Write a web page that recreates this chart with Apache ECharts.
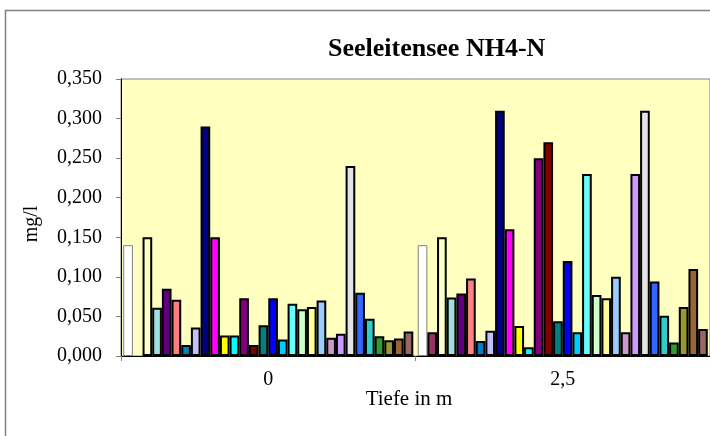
<!DOCTYPE html>
<html>
<head>
<meta charset="utf-8">
<script src="https://cdn.jsdelivr.net/npm/echarts@6/dist/echarts.min.js"></script>
<style>
html,body{margin:0;padding:0;background:#fff;}
#chart{width:710px;height:436px;}
</style>
</head>
<body>
<div id="chart"></div>
<script>
var categories = ['0', '2,5'];
var yTicks = [0, 0.05, 0.1, 0.15, 0.2, 0.25, 0.3, 0.35];
// values at depth 0 m, one per series
var depth0 = [0.140, null, 0.150, 0.061, 0.085, 0.071, 0.014, 0.036, 0.290, 0.150,
              0.026, 0.026, 0.073, 0.014, 0.039, 0.073, 0.021, 0.066, 0.059, 0.062,
              0.070, 0.023, 0.028, 0.240, 0.080, 0.047, 0.025, 0.020, 0.022, 0.031];
// values at depth 2,5 m, one per series
var depth25 = [0.140, 0.030, 0.150, 0.074, 0.079, 0.098, 0.019, 0.032, 0.310, 0.160,
               0.038, 0.011, 0.250, 0.270, 0.044, 0.120, 0.030, 0.230, 0.077, 0.073,
               0.100, 0.030, 0.230, 0.310, 0.094, 0.051, 0.017, 0.062, 0.110, 0.034];
var colors = ['#FFFFFF', '#993366', '#FFFFCC', '#A0E0E0', '#600080', '#FF8080', '#0080C0', '#C0C0FF',
              '#000080', '#FF00FF', '#FFFF00', '#00FFFF', '#800080', '#800000', '#008080', '#0000FF',
              '#00CCFF', '#66FFFF', '#CCFFCC', '#FFFF99', '#99CCFF', '#CC99CC', '#CC99FF', '#E3E3E3',
              '#3366FF', '#33CCCC', '#339933', '#999933', '#996633', '#996666'];

var FONT = '"Liberation Serif", "Times New Roman", serif';
var series = depth0.map(function (v, i) {
  return {
    name: 'Reihe ' + (i + 1),
    type: 'bar',
    data: [v, depth25[i]],
    barGap: 0,
    barCategoryGap: '1.5%',
    itemStyle: {
      color: colors[i],
      borderColor: i === 0 ? '#808080' : '#000000',
      borderWidth: i === 0 ? 1 : 2
    },
    emphasis: { disabled: true },
    animation: false
  };
});

var chart = echarts.init(document.getElementById('chart'), null, { renderer: 'canvas' });
chart.setOption({
  animation: false,
  backgroundColor: '#ffffff',
  title: {
    text: 'Seeleitensee NH4-N',
    left: 323,
    top: 31,
    textStyle: { fontFamily: FONT, fontSize: 26, fontWeight: 'bold', color: '#000' }
  },
  grid: {
    left: 121, top: 79, right: -5, bottom: 80,
    show: true, backgroundColor: '#FFFFC0', borderColor: '#808080', borderWidth: 1
  },
  xAxis: {
    type: 'category',
    data: categories,
    axisLine: { lineStyle: { color: '#000', width: 1 } },
    axisTick: { show: true, length: 5, lineStyle: { color: '#808080' } },
    axisLabel: { fontFamily: FONT, fontSize: 20, color: '#000', margin: 14 },
    splitLine: { show: false }
  },
  yAxis: {
    type: 'value',
    min: 0, max: 0.35, interval: 0.05,
    axisLine: { show: true, lineStyle: { color: '#000', width: 1 } },
    axisTick: { show: true, length: 5, lineStyle: { color: '#808080' } },
    axisLabel: {
      fontFamily: FONT, fontSize: 20, color: '#000', margin: 19,
      formatter: function (v) { return v.toFixed(3).replace('.', ','); }
    },
    splitLine: { show: false }
  },
  graphic: [
    {
      type: 'rect', silent: true, z: 100,
      shape: { x: 5.5, y: 10.5, width: 740, height: 460 },
      style: { fill: 'none', stroke: '#808080', lineWidth: 1.5 }
    },
    {
      type: 'text', silent: true,
      x: 409, y: 399,
      style: { text: 'Tiefe in m', font: '21px ' + FONT, fill: '#000', textAlign: 'center', textVerticalAlign: 'middle' }
    },
    {
      type: 'text', silent: true,
      x: 32, y: 224, rotation: Math.PI / 2,
      style: { text: 'mg/l', font: '20px ' + FONT, fill: '#000', textAlign: 'center', textVerticalAlign: 'middle' }
    }
  ],
  series: series
});
</script>
</body>
</html>
